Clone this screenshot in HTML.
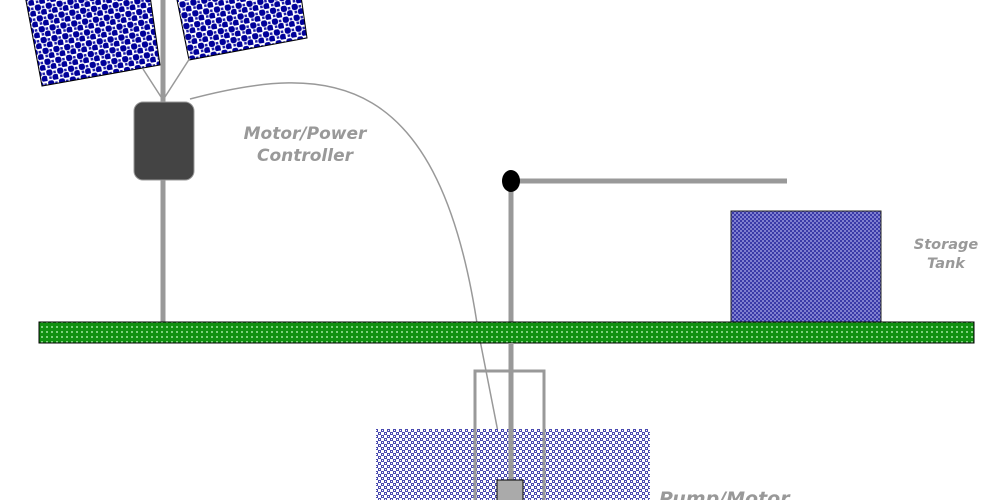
<!DOCTYPE html>
<html><head><meta charset="utf-8"><style>
html,body{margin:0;padding:0;background:#fff;width:1000px;height:500px;overflow:hidden}
text{font-family:"DejaVu Sans","Liberation Sans",sans-serif;font-weight:bold;font-style:italic;fill:#999}
</style></head><body>
<svg width="1000" height="500" viewBox="0 0 1000 500" xmlns="http://www.w3.org/2000/svg">
<defs>
<pattern id="sol" width="11" height="11" patternUnits="userSpaceOnUse" patternTransform="rotate(-10)">
<rect width="11" height="11" fill="#fff"/>
<circle cx="3" cy="3" r="3.3" fill="#00009a"/><circle cx="8.5" cy="8.5" r="3.3" fill="#00009a"/>
<rect x="7" y="2" width="2.5" height="2.5" fill="#2020a8"/><rect x="2" y="7" width="2.5" height="2.5" fill="#2020a8"/>
</pattern>
<pattern id="tank" width="4" height="4" patternUnits="userSpaceOnUse">
<rect width="4" height="4" fill="#8080d0"/><rect width="2" height="2" fill="#3a3aa8"/><rect x="2" y="2" width="2" height="2" fill="#3a3aa8"/>
</pattern>
<pattern id="grass" width="5" height="5" patternUnits="userSpaceOnUse">
<rect width="5" height="5" fill="#109010"/><rect x="1" y="1" width="2" height="2" fill="#7ed07e"/>
</pattern>
<pattern id="water" width="6" height="6" patternUnits="userSpaceOnUse">
<rect width="6" height="6" fill="#fff"/><rect x="0" y="0" width="3" height="3" fill="#4a4ab0"/><rect x="3" y="3" width="3" height="3" fill="#4a4ab0"/><rect x="1" y="1" width="1" height="1" fill="#fff"/><rect x="4" y="4" width="1" height="1" fill="#fff"/>
</pattern>
</defs>
<polygon points="24,-10 42,86 160,65 147,-25" fill="url(#sol)" stroke="#000" stroke-width="1"/>
<polygon points="175,-10 189,60 307,38 298,-25" fill="url(#sol)" stroke="#000" stroke-width="1"/>
<line x1="163" y1="0" x2="163" y2="322" stroke="#999" stroke-width="5"/>
<line x1="143" y1="69" x2="163" y2="100" stroke="#999" stroke-width="1.5"/>
<line x1="190" y1="58" x2="163" y2="100" stroke="#999" stroke-width="1.5"/>
<path d="M190,99 C330,62 440,70 478,330 L498,432" fill="none" stroke="#999" stroke-width="1.5"/>
<rect x="134" y="102" width="60" height="78" rx="9" fill="#444" stroke="#999" stroke-width="1"/>
<line x1="511" y1="182" x2="511" y2="482" stroke="#999" stroke-width="5"/>
<line x1="511" y1="181" x2="787" y2="181" stroke="#999" stroke-width="5"/>
<ellipse cx="511" cy="181" rx="9" ry="11" fill="#000"/>
<rect x="731" y="211" width="150" height="111" fill="url(#tank)" stroke="#222" stroke-width="1"/>
<rect x="39" y="322" width="935" height="21" fill="url(#grass)" stroke="#000" stroke-width="1"/>
<rect x="376" y="429" width="274" height="71" fill="url(#water)"/>
<rect x="475" y="371" width="69" height="140" fill="none" stroke="#999" stroke-width="3"/>
<line x1="511" y1="343" x2="511" y2="482" stroke="#999" stroke-width="5"/>
<rect x="497" y="480" width="26" height="25" fill="#aaa" stroke="#000" stroke-width="1"/>
<text x="305" y="139" font-size="17" text-anchor="middle">Motor/Power</text>
<text x="305" y="161" font-size="17" text-anchor="middle">Controller</text>
<text x="946" y="249" font-size="14.5" text-anchor="middle">Storage</text>
<text x="946" y="268" font-size="14.5" text-anchor="middle">Tank</text>
<text x="659" y="505" font-size="19">Pump/Motor</text>
</svg>
</body></html>
